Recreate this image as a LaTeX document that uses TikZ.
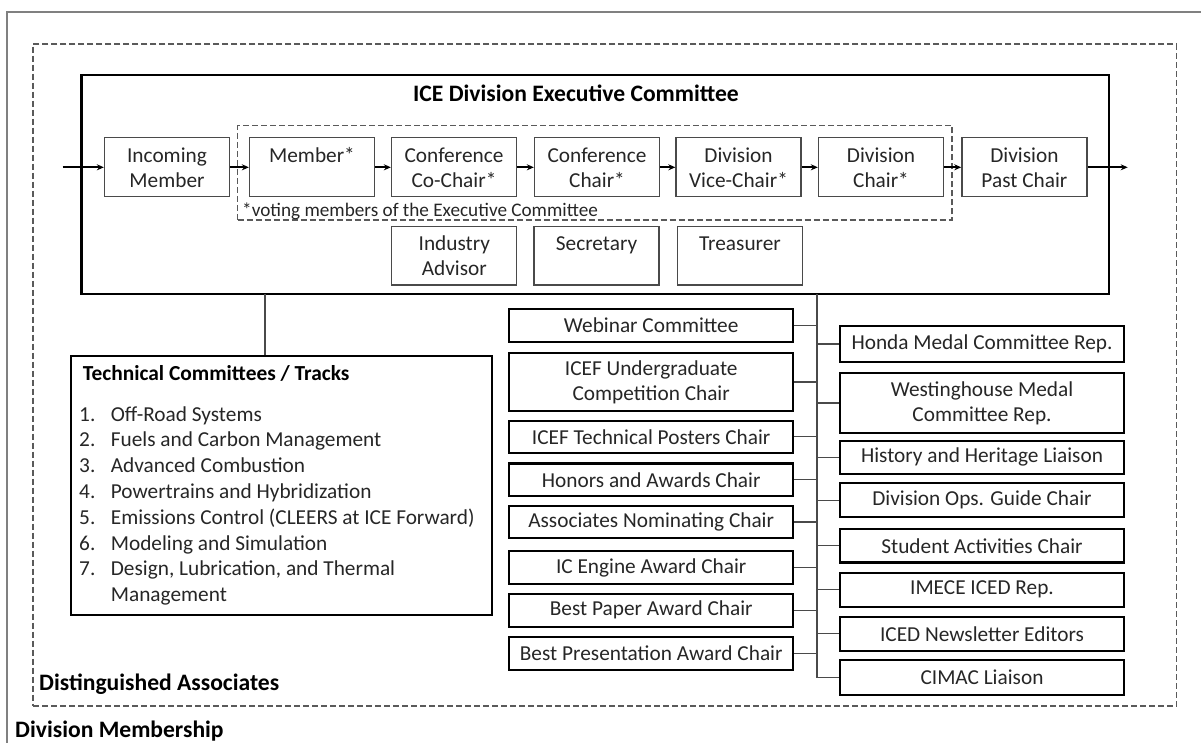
\documentclass[tikz,border=0pt]{standalone}
\usepackage{fontspec}
\setmainfont{Carlito}
\usetikzlibrary{arrows.meta}
\definecolor{txt}{HTML}{262626}
\definecolor{boxgray}{HTML}{4A4A4A}
\definecolor{linegray}{HTML}{4A4A4A}
\definecolor{dashgray}{HTML}{5A5A5A}
\definecolor{bordergray}{HTML}{808080}
\newcommand{\rb}[1]{\parbox[c][45pt][t]{122pt}{\centering\strut #1}}
\newcommand{\li}[2]{\makebox[31.7pt][l]{#1}#2\par}
\begin{document}
\begin{tikzpicture}[x=1pt,y=-1pt,
  every node/.style={font=\fontsize{21.3}{25}\selectfont, text=txt},
  rowbox/.style={draw=boxgray, line width=1.3pt, inner sep=0pt, minimum width=125pt, minimum height=59pt},
  colbox/.style={draw=black, line width=2.3pt, inner sep=0pt, minimum width=284pt, align=center},
  conn/.style={draw=linegray, line width=1.3pt},
  flow/.style={draw=black, line width=2pt, -{Stealth[length=7pt,width=6pt]}},
  dashbox/.style={draw=dashgray, line width=1.3pt, dash pattern=on 6pt off 3pt, inner sep=0pt},
  boldlabel/.style={font=\fontsize{23.6}{28}\selectfont\bfseries, text=black, inner sep=0pt, anchor=base west}
]
\useasboundingbox (0,0) rectangle (1201,742);
% outer border
\draw[bordergray, line width=2pt] (6.5,760) -- (6.5,11.5) -- (1210,11.5);
% distinguished associates dashed frame
\node[dashbox, minimum width=1143.7pt, minimum height=662pt] (assoc) at (604.85,375) {};
\node[boldlabel] (assoclbl) at (39,690) {Distinguished Associates};
\node[boldlabel] (memb) at (15,737) {Division Membership};
% executive committee
\node[draw=black, line width=2.5pt, minimum width=1027.3pt, minimum height=219pt, inner sep=0pt] (exec) at (595.35,184.5) {};
\node[font=\fontsize{23.6}{28}\selectfont\bfseries, text=black, inner sep=0pt, anchor=base] (title) at (576,101) {ICE Division Executive Committee};
\node[dashbox, minimum width=714.3pt, minimum height=94.3pt] (voting) at (594.85,172.85) {};
\node[inner sep=0pt, anchor=base west, font=\fontsize{19.2}{23}\selectfont] (votinglbl) at (242,216) {*voting members of the Executive Committee};
% row boxes
\node[rowbox] (inc) at (167,167.3) {\rb{Incoming\\Member}};
\node[rowbox] (mem) at (312,167.3) {\rb{Member*}};
\node[rowbox] (cochair) at (454,167.3) {\rb{Conference\\Co-Chair*}};
\node[rowbox] (conf) at (597,167.3) {\rb{Conference\\Chair*}};
\node[rowbox] (vice) at (738.5,167.3) {\rb{Division\\Vice-Chair*}};
\node[rowbox] (divchair) at (881,167.3) {\rb{Division\\Chair*}};
\node[rowbox] (past) at (1024.4,167.3) {\rb{Division\\Past Chair}};
\node[rowbox, minimum height=58.3pt] (industry) at (454.3,255.9) {\rb{Industry\\Advisor}};
\node[rowbox, minimum height=58.3pt] (secretary) at (596.5,255.9) {\rb{Secretary}};
\node[rowbox, minimum height=58.3pt] (treasurer) at (740,255.9) {\rb{Treasurer}};
% flow arrows
\coordinate (inflow) at (62.7,167.3);
\coordinate (outflow) at (1127.7,167.3);
\draw[flow] (inflow) -- (inc.west);
\draw[flow] (inc.east) -- (mem.west);
\draw[flow] (mem.east) -- (cochair.west);
\draw[flow] (cochair.east) -- (conf.west);
\draw[flow] (conf.east) -- (vice.west);
\draw[flow] (vice.east) -- (divchair.west);
\draw[flow] (divchair.east) -- (past.west);
\draw[flow] (past.east) -- (outflow);
% technical committees
\node[draw=black, line width=2.2pt, minimum width=420.7pt, minimum height=259pt, inner sep=0pt] (tech) at (281.35,485.5) {};
\node[boldlabel, font=\fontsize{21.4}{25}\selectfont\bfseries] (techtitle) at (82.7,380.7) {Technical Committees / Tracks};
\node[inner sep=0pt, anchor=base west] (techlist) at (79,421) {\parbox[t]{405pt}{\fontsize{21.3}{25.8}\selectfont
\li{1.}{Off-Road Systems}
\li{2.}{Fuels and Carbon Management}
\li{3.}{Advanced Combustion}
\li{4.}{Powertrains and Hybridization}
\li{5.}{Emissions Control (CLEERS at ICE Forward)}
\li{6.}{Modeling and Simulation}
\li{7.}{Design, Lubrication, and Thermal}
\li{}{Management}}};
\coordinate (techjoin) at (265,294);
\draw[conn] (techjoin) -- (techjoin |- tech.north);
% left column
\node[colbox, minimum height=32.7pt] (l1) at (651.2,325.3) {Webinar Committee};
\node[colbox, minimum height=57.4pt] (l2) at (651.2,382) {ICEF Undergraduate\\Competition Chair};
\node[colbox, minimum height=32pt] (l3) at (651.2,436.7) {ICEF Technical Posters Chair};
\node[colbox, minimum height=32.7pt] (l4) at (651.2,479.7) {Honors and Awards Chair};
\node[colbox, minimum height=32.6pt] (l5) at (651.2,522) {Associates Nominating Chair};
\node[colbox, minimum height=33.6pt] (l6) at (651.2,567.5) {IC Engine Award Chair};
\node[colbox, minimum height=32.7pt] (l7) at (651.2,610.3) {Best Paper Award Chair};
\node[colbox, minimum height=33.3pt] (l8) at (651.2,653.3) {Best Presentation Award Chair};
% right column
\node[colbox, minimum height=36pt] (r1) at (982,344) {Honda Medal Committee Rep.};
\node[colbox, minimum height=60.6pt] (r2) at (982,403) {Westinghouse Medal\\Committee Rep.};
\node[colbox, minimum height=33.3pt] (r3) at (982,457.3) {History and Heritage Liaison};
\node[colbox, minimum height=34pt] (r4) at (982,500.3) {Division Ops. Guide Chair};
\node[colbox, minimum height=33.3pt] (r5) at (982,545.7) {Student Activities Chair};
\node[colbox, minimum height=34pt] (r6) at (982,589.7) {IMECE ICED Rep.};
\node[colbox, minimum height=34pt] (r7) at (982,633.7) {ICED Newsletter Editors};
\node[colbox, minimum height=35pt] (r8) at (982,677.5) {CIMAC Liaison};
% trunk
\coordinate (trunktop) at (817,294);
\draw[conn] (trunktop) -- (trunktop |- r8.west) -- (r8.west);
\foreach \n in {l1,l2,l3,l4,l5,l6,l7,l8}{\draw[conn] (\n.east) -- (\n.east -| trunktop);}
\foreach \n in {r1,r2,r3,r4,r5,r6,r7}{\draw[conn] (\n.west) -- (\n.west -| trunktop);}
\end{tikzpicture}
\end{document}
